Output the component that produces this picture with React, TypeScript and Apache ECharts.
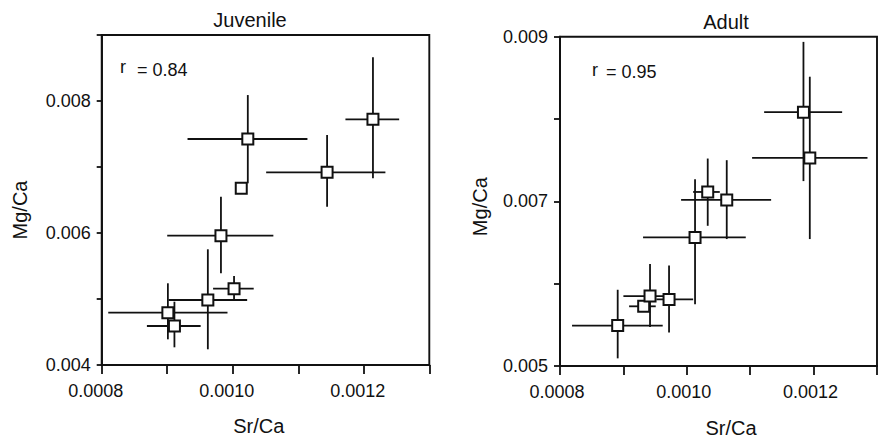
import React, { useEffect, useRef } from "react";
import * as echarts from "echarts";

// Juvenile panel
const juvSr = [0.001023, 0.001013, 0.001214, 0.001144, 0.000982, 0.001002, 0.000962, 0.000901, 0.000911];
const juvMg = [0.007424, 0.006677, 0.007723, 0.00692, 0.005959, 0.005156, 0.004985, 0.004793, 0.004591];
const juvSrLo = [0.000931, 0.001013, 0.001172, 0.001051, 0.0009, 0.00097, 0.000902, 0.00081, 0.000869];
const juvSrHi = [0.001114, 0.001013, 0.001254, 0.001233, 0.001062, 0.001032, 0.001022, 0.000992, 0.000951];
const juvMgLo = [0.006753, 0.006677, 0.006829, 0.006398, 0.00539, 0.004985, 0.004238, 0.004389, 0.004268];
const juvMgHi = [0.00809, 0.006677, 0.008662, 0.007485, 0.00655, 0.005348, 0.005753, 0.005238, 0.004959];

// Adult panel
const adSr = [0.000891, 0.000932, 0.000942, 0.000972, 0.001013, 0.001033, 0.001063, 0.001184, 0.001194];
const adMg = [0.005491, 0.005725, 0.005849, 0.005809, 0.006562, 0.007114, 0.007017, 0.008083, 0.007528];
const adSrLo = [0.000819, 0.000909, 0.0009, 0.000952, 0.000931, 0.00101, 0.000991, 0.001122, 0.001103];
const adSrHi = [0.000962, 0.000951, 0.000964, 0.00101, 0.001093, 0.001052, 0.001133, 0.001245, 0.001285];
const adMgLo = [0.005093, 0.005725, 0.005475, 0.005407, 0.005749, 0.006703, 0.006542, 0.007246, 0.006542];
const adMgHi = [0.005926, 0.005725, 0.00624, 0.00622, 0.007267, 0.00752, 0.0075, 0.008937, 0.008514];

const titles = ["Juvenile", "Adult"];
const rLabels = ["= 0.84", "= 0.95"];
const xName = "Sr/Ca";
const yName = "Mg/Ca";

const FONT = "'Liberation Sans', Arial, Helvetica, sans-serif";
const INK = "#111111";

function errData(x: number[], y: number[], xl: number[], xh: number[], yl: number[], yh: number[]) {
  return x.map((v, i) => [v, y[i], xl[i], xh[i], yl[i], yh[i]]);
}

function renderErr(params: any, api: any) {
  const x = api.value(0), y = api.value(1);
  const xl = api.value(2), xh = api.value(3), yl = api.value(4), yh = api.value(5);
  const a = api.coord([xl, y]), b = api.coord([xh, y]);
  const c = api.coord([x, yl]), d = api.coord([x, yh]);
  const style = { stroke: INK, lineWidth: 1.8 };
  return {
    type: "group",
    children: [
      { type: "line", shape: { x1: a[0], y1: a[1], x2: b[0], y2: b[1] }, style },
      { type: "line", shape: { x1: c[0], y1: c[1], x2: d[0], y2: d[1] }, style },
    ],
  };
}

export default function App() {
  const ref = useRef<HTMLDivElement>(null);
  useEffect(() => {
    document.body.style.margin = "0";
    const chart = echarts.init(ref.current!, null, { renderer: "svg" });
    const axisLine = { show: true, lineStyle: { color: INK, width: 1.9 } };
    const xAxisBase = (gi: number, pad: number) => ({
      type: "value",
      gridIndex: gi,
      min: 0.0008,
      max: 0.0013,
      interval: 0.0001,
      axisLine: { ...axisLine, onZero: false },
      axisTick: { show: true, inside: false, length: 9, lineStyle: { color: INK, width: 1.8 } },
      splitLine: { show: false },
      axisLabel: {
        margin: 17,
        color: INK,
        fontSize: 18,
        fontFamily: FONT,
        padding: [0, pad, 0, 0],
        showMaxLabel: true,
        formatter: (v: number) => (Math.round(v * 10000) % 2 === 0 ? v.toFixed(4) : ""),
      },
    });
    const yAxisBase = (gi: number, min: number, odd: boolean, tick: number, margin: number) => ({
      type: "value",
      gridIndex: gi,
      min,
      max: 0.009,
      interval: 0.001,
      axisLine: { ...axisLine, onZero: false },
      axisTick: { show: true, inside: false, length: tick, lineStyle: { color: INK, width: 1.8 } },
      splitLine: { show: false },
      axisLabel: {
        margin,
        color: INK,
        fontSize: 18,
        fontFamily: FONT,
        showMaxLabel: true,
        showMinLabel: true,
        formatter: (v: number) => {
          const k = Math.round(v * 1000);
          return (k % 2 === 1) === odd ? v.toFixed(3) : "";
        },
      },
    });
    const scatter = (gi: number, x: number[], y: number[]) => ({
      type: "scatter",
      xAxisIndex: gi,
      yAxisIndex: gi,
      symbol: "rect",
      symbolSize: 11,
      z: 5,
      itemStyle: { color: "#ffffff", borderColor: INK, borderWidth: 2, opacity: 1 },
      data: x.map((v, i) => [v, y[i]]),
    });
    const errors = (gi: number, data: number[][]) => ({
      type: "custom",
      xAxisIndex: gi,
      yAxisIndex: gi,
      z: 2,
      renderItem: renderErr,
      encode: { x: 0, y: 1 },
      data,
    });
    const txt = (x: number, y: number, text: string, size: number, rot = 0) => ({
      type: "text",
      x,
      y,
      rotation: rot,
      style: { text, fill: INK, fontSize: size, fontFamily: FONT, align: "center", verticalAlign: "middle" },
    });
    chart.setOption({
      animation: false,
      backgroundColor: "#ffffff",
      grid: [
        { left: 101.7, top: 35, width: 327.6, height: 330, show: true, borderColor: INK, borderWidth: 1.9, backgroundColor: "transparent" },
        { left: 560, top: 36.7, width: 325.5, height: 329.3, show: true, borderColor: INK, borderWidth: 1.9, backgroundColor: "transparent" },
      ],
      xAxis: [xAxisBase(0, 12), xAxisBase(1, 6)],
      yAxis: [yAxisBase(0, 0.004, false, 5, 11), yAxisBase(1, 0.005, true, 6, 12)],
      series: [
        errors(0, errData(juvSr, juvMg, juvSrLo, juvSrHi, juvMgLo, juvMgHi)),
        scatter(0, juvSr, juvMg),
        errors(1, errData(adSr, adMg, adSrLo, adSrHi, adMgLo, adMgHi)),
        scatter(1, adSr, adMg),
      ],
      graphic: [
        txt(250, 19.5, titles[0], 20),
        txt(726, 21.5, titles[1], 20),
        txt(258.7, 426, xName, 20),
        txt(731, 428, xName, 20),
        txt(20, 210, yName, 20, Math.PI / 2),
        txt(480, 206.7, yName, 20, Math.PI / 2),
        { type: "text", x: 120, y: 67, style: { text: "r", fill: INK, fontSize: 18, fontFamily: FONT, align: "left", verticalAlign: "middle" } },
        { type: "text", x: 137, y: 69.5, style: { text: rLabels[0], fill: INK, fontSize: 18, fontFamily: FONT, align: "left", verticalAlign: "middle" } },
        { type: "text", x: 592, y: 69.5, style: { text: "r", fill: INK, fontSize: 18, fontFamily: FONT, align: "left", verticalAlign: "middle" } },
        { type: "text", x: 606, y: 72, style: { text: rLabels[1], fill: INK, fontSize: 18, fontFamily: FONT, align: "left", verticalAlign: "middle" } },
      ],
    });
    return () => chart.dispose();
  }, []);
  return <div ref={ref} style={{ width: 880, height: 439, position: "absolute", left: 0, top: 0 }} />;
}
